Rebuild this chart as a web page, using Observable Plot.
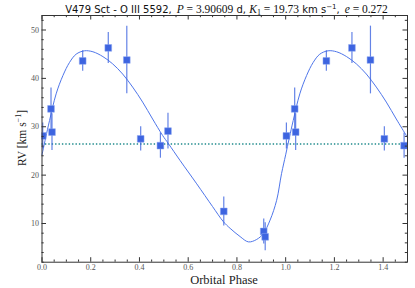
<!DOCTYPE html>
<html>
<head>
<meta charset="utf-8">
<script src="https://cdn.jsdelivr.net/npm/d3@7"></script>
<script src="https://cdn.jsdelivr.net/npm/@observablehq/plot@0.6"></script>
<style>
  html, body { margin: 0; padding: 0; background: #fff; }
  #wrap { position: relative; width: 415px; height: 288px; }
  #title { position: absolute; top: 0px; left: 44px; width: 365px; text-align: center;
           white-space: nowrap; font-size: 10px; line-height: 14px; color: #111; }
  .sans { font-family: "DejaVu Sans", sans-serif; }
  .ser { font-family: "Liberation Serif", serif; font-size: 11.5px; }
  .it { font-style: italic; }
  #ylab { position: absolute; font-family: "Liberation Serif", serif; font-size: 11.5px; color: #222;
          left: 21px; top: 138px; transform: translate(-50%, -50%) rotate(-90deg); white-space: nowrap; }
  #xlab { position: absolute; font-family: "Liberation Serif", serif; font-size: 12.5px; color: #222;
          left: 224px; top: 280px; transform: translate(-50%, -50%); white-space: nowrap; line-height: 13px; }
</style>
</head>
<body>
<div id="wrap">
  <div id="chart"></div>
  <div id="title"><span class="sans">V479 Sct - O III 5592,</span>&nbsp;&nbsp;<span class="ser it">P</span><span class="ser"> = 3.90609</span><span class="sans"> d, </span><span class="ser it">K</span><span class="ser" style="font-size:8px;vertical-align:-2px">1</span><span class="ser"> = 19.73</span><span class="sans"> km s<sup style="font-size:7px">−1</sup>,</span>&nbsp;&nbsp;<span class="ser it">e</span><span class="ser"> = 0.272</span></div>
  <div id="ylab">RV [km s<sup style="font-size:8px">−1</sup>]</div>
  <div id="xlab">Orbital Phase</div>
</div>
<script>
// Observed radial velocities (phase, RV in km/s, 1-sigma error)
const obsPhase = [0.003, 0.037, 0.041, 0.167, 0.272, 0.348, 0.405, 0.486, 0.517, 0.746, 0.910, 0.916];
const obsRV    = [28.1, 33.7, 28.9, 43.6, 46.3, 43.8, 27.5, 26.1, 29.1, 12.5, 8.35, 7.25];
const obsErr   = [2.7, 4.3, 3.8, 2.1, 3.2, 7.0, 2.5, 2.6, 3.7, 3.0, 2.6, 2.9];

// Fitted orbit curve (one cycle)
const fitPhase = [0.0, 0.015, 0.031, 0.058, 0.086, 0.113, 0.14, 0.174, 0.209, 0.25, 0.29, 0.331, 0.372, 0.413, 0.454, 0.495, 0.519, 0.567, 0.635, 0.70, 0.744, 0.772, 0.813, 0.847, 0.881, 0.908, 0.936, 0.963, 0.983];
const fitRV    = [24.2, 27.7, 31.3, 36.8, 40.6, 43.3, 45.0, 45.7, 45.5, 44.5, 43.0, 40.9, 38.2, 35.1, 31.6, 28.2, 26.5, 23.0, 18.2, 13.5, 10.4, 9.0, 7.3, 6.2, 6.7, 7.9, 10.7, 14.8, 20.3];

// Systemic velocity
const gammaRV = 26.45;

// Axis ticks
const xMajor = [0, 0.2, 0.4, 0.6, 0.8, 1.0, 1.2, 1.4];
const xMinor = d3.range(0, 31).map(i => i * 0.05).filter(v => Math.abs(v / 0.2 - Math.round(v / 0.2)) > 1e-6);
const yMajor = [10, 20, 30, 40, 50];
const yMinor = d3.range(1, 27).map(i => i * 2).filter(v => v % 10 !== 0);

// Build folded tables (phase and phase + 1)
const obs = obsPhase.map((p, i) => ({phase: p, rv: obsRV[i], err: obsErr[i]}));
const obsAll = obs.concat(obs.map(d => ({...d, phase: d.phase + 1})).filter(d => d.phase <= 1.5));
const fit = fitPhase.map((p, i) => ({phase: p, rv: fitRV[i]}));
const fitAll = fit.concat(fit.map(d => ({...d, phase: d.phase + 1})).filter(d => d.phase <= 1.5))
                  .concat([{phase: 1.5, rv: 27.8}]);

const W = 415, H = 288, mL = 41.5, mR = 8, mT = 15, mB = 26.3;
const pw = W - mL - mR, ph = H - mT - mB;
const axisColor = "#333";
const blue = "#3d64e0";

const chart = Plot.plot({
  width: W, height: H,
  marginLeft: mL, marginRight: mR, marginTop: mT, marginBottom: mB,
  style: {background: "#fff", overflow: "visible", color: "#555"},
  x: {domain: [0, 1.5], axis: null},
  y: {domain: [2, 53], axis: null},
  marks: [
    Plot.ruleY([gammaRV], {stroke: "#1f8a8c", strokeWidth: 1.6, strokeDasharray: "1.4,2"}),
    Plot.line(fitAll, {x: "phase", y: "rv", stroke: "#4f76ea", strokeWidth: 1, curve: "catmull-rom"}),
    Plot.ruleX(obsAll, {x: "phase", y1: d => d.rv - d.err, y2: d => d.rv + d.err, stroke: blue, strokeWidth: 1.2, strokeOpacity: 0.8}),
    Plot.dot(obsAll, {x: "phase", y: "rv", symbol: "square", r: 3.8, fill: blue, stroke: "#8aa4f0", strokeWidth: 0.5, clip: true}),
    // inward ticks on all four sides
    Plot.tickX(xMajor, {x: d => d, stroke: axisColor, insetTop: ph - 4.5}),
    Plot.tickX(xMajor, {x: d => d, stroke: axisColor, insetBottom: ph - 4.5}),
    Plot.tickX(xMinor, {x: d => d, stroke: axisColor, insetTop: ph - 2.2}),
    Plot.tickX(xMinor, {x: d => d, stroke: axisColor, insetBottom: ph - 2.2}),
    Plot.tickY(yMajor, {y: d => d, stroke: axisColor, insetRight: pw - 4.5}),
    Plot.tickY(yMajor, {y: d => d, stroke: axisColor, insetLeft: pw - 4.5}),
    Plot.tickY(yMinor, {y: d => d, stroke: axisColor, insetRight: pw - 2.2}),
    Plot.tickY(yMinor, {y: d => d, stroke: axisColor, insetLeft: pw - 2.2}),
    Plot.frame({stroke: axisColor, strokeWidth: 1}),
    Plot.axisX({ticks: xMajor, tickSize: 0, tickPadding: 2.5, tickFormat: d3.format(".1f"),
                fontFamily: "Liberation Serif", fontSize: 8, fill: "#555", label: null}),
    Plot.axisY({ticks: yMajor, tickSize: 0, tickPadding: 3, tickFormat: d3.format("d"),
                fontFamily: "Liberation Serif", fontSize: 8, fill: "#555", label: null})
  ]
});
document.getElementById("chart").appendChild(chart);
</script>
</body>
</html>
